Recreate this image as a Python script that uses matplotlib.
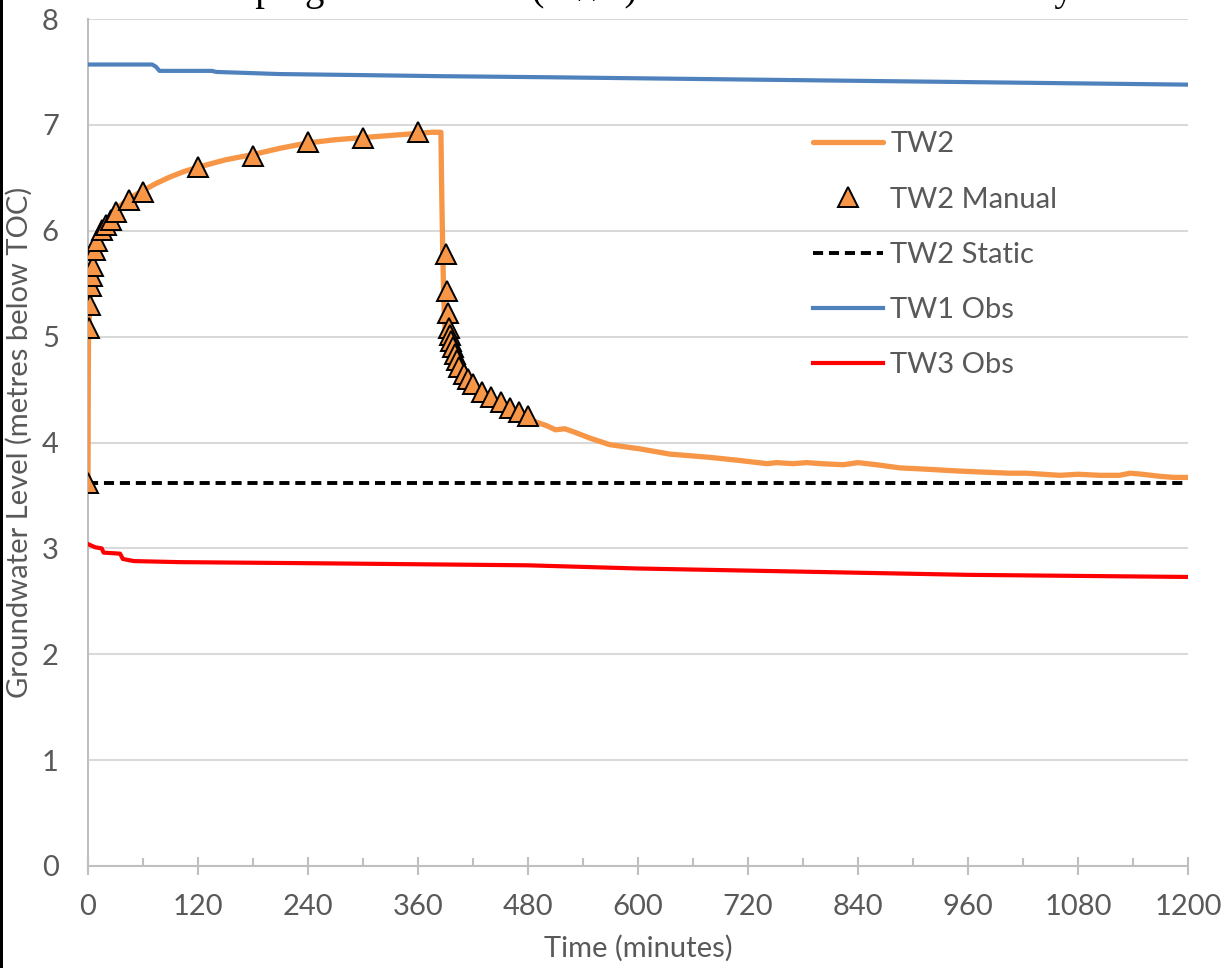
import matplotlib
matplotlib.use("Agg")
import matplotlib.pyplot as plt
from matplotlib.patches import Rectangle

# ---------------- data ----------------
tw2_time = [0, 0.3, 0.6, 1, 2, 3, 4, 5, 6, 8, 10, 15, 20, 25, 30, 40, 50, 60, 75, 90,
            105, 120, 150, 180, 210, 240, 270, 300, 330, 360, 375, 385,
            386, 387, 388, 389, 390, 392, 395, 400, 405, 410, 420, 430, 440, 450,
            460, 470, 480, 500, 510, 520, 530, 548, 569, 602, 635, 678, 711, 741,
            751, 769, 784, 800, 824, 840, 860, 886, 910, 951, 977, 1006, 1024,
            1042, 1060, 1080, 1104, 1125, 1137, 1150, 1170, 1185, 1200]
tw2_level = [3.62, 4.60, 5.00, 5.10, 5.30, 5.48, 5.58, 5.66, 5.74, 5.85, 5.92, 6.03,
             6.10, 6.15, 6.20, 6.27, 6.33, 6.38, 6.45, 6.51, 6.56, 6.60, 6.67, 6.72,
             6.78, 6.83, 6.86, 6.88, 6.90, 6.92, 6.93, 6.93,
             6.30, 5.80, 5.40, 5.15, 5.02, 4.92, 4.83, 4.73, 4.66, 4.60, 4.50, 4.43,
             4.38, 4.33, 4.29, 4.26, 4.22, 4.16, 4.12, 4.13, 4.10, 4.04, 3.98, 3.94,
             3.89, 3.86, 3.83, 3.80, 3.81, 3.80, 3.81, 3.80, 3.79, 3.81, 3.79, 3.76,
             3.75, 3.73, 3.72, 3.71, 3.71, 3.70, 3.69, 3.70, 3.69, 3.69, 3.71, 3.70,
             3.68, 3.67, 3.67]

manual_time = [0, 1, 2, 3, 4, 5, 8, 10, 15, 20, 25, 30, 45, 60, 120, 180, 240, 300, 360,
               391, 392, 393, 394, 395, 396, 398, 400, 402, 405, 410, 415, 420, 430,
               440, 450, 460, 470, 480]
manual_level = [3.62, 5.08, 5.30, 5.48, 5.57, 5.67, 5.82, 5.90, 6.01, 6.05, 6.10, 6.18,
                6.29, 6.37, 6.60, 6.71, 6.84, 6.88, 6.93,
                5.78, 5.43, 5.22, 5.08, 5.02, 4.96, 4.90, 4.84, 4.78, 4.71, 4.65,
                4.60, 4.55, 4.48, 4.43, 4.38, 4.33, 4.29, 4.25]

static_time = [0, 1200]
static_level = [3.62, 3.62]

tw1_time = [0, 40, 70, 74, 78, 100, 135, 140, 209, 300, 384, 500, 600, 700, 800, 900,
            1000, 1100, 1200]
tw1_level = [7.57, 7.57, 7.57, 7.55, 7.51, 7.51, 7.51, 7.50, 7.48, 7.47, 7.46, 7.45,
             7.44, 7.43, 7.42, 7.41, 7.40, 7.39, 7.38]

tw3_time = [0, 8, 15, 17, 35, 38, 50, 100, 240, 360, 480, 600, 720, 840, 960, 1080, 1200]
tw3_level = [3.04, 3.01, 3.00, 2.96, 2.95, 2.90, 2.88, 2.87, 2.86, 2.85, 2.84, 2.81,
             2.79, 2.77, 2.75, 2.74, 2.73]

x_ticks = list(range(0, 1201, 120))
y_ticks = list(range(0, 9))

title_text = "Pumping Test Results (TW2) \u2013 Drawdown and Recovery"
x_label = "Time (minutes)"
y_label = "Groundwater Level (metres below TOC)"

# ---------------- style ----------------
ORANGE = "#F79646"
BLUE = "#4F81BD"
RED = "#FF0000"
GRAY_TXT = "#595959"
GRID = "#D9D9D9"
AXIS = "#BFBFBF"
FONT = ["Lato", "DejaVu Sans"]
FS = 21

plt.rcParams["font.family"] = FONT

fig = plt.figure(figsize=(12.3, 9.68), dpi=100)
ax = fig.add_axes([88 / 1230, (968 - 866) / 968, 1100 / 1230, 847 / 968])

ax.plot(tw2_time, tw2_level, color=ORANGE, lw=3.8, solid_joinstyle="round",
        solid_capstyle="round", zorder=3, label="TW2")
ax.plot(manual_time, manual_level, ls="none", marker="^", ms=14, mfc=ORANGE,
        mec="black", mew=1.4, zorder=5, label="TW2 Manual")
ax.plot(static_time, static_level, color="black", lw=2.8, dashes=(2.6, 1.5),
        zorder=4, label="TW2 Static")
ax.plot(tw1_time, tw1_level, color=BLUE, lw=3.0, zorder=3, label="TW1 Obs")
ax.plot(tw3_time, tw3_level, color=RED, lw=3.0, zorder=3, label="TW3 Obs")

ax.set_xlim(0, 1200)
ax.set_ylim(0, 8)
ax.set_xticks(x_ticks)
ax.set_xticks(list(range(60, 1200, 120)), minor=True)
ax.set_yticks(y_ticks)
ax.grid(axis="y", color=GRID, lw=1.5, zorder=0)
ax.set_axisbelow(True)

for s in ["top", "right"]:
    ax.spines[s].set_visible(False)
ax.spines["left"].set_color(AXIS)
ax.spines["bottom"].set_color(AXIS)
ax.spines["left"].set_linewidth(1.5)
ax.spines["bottom"].set_linewidth(1.5)

ax.tick_params(axis="y", length=0, pad=21, labelsize=FS, labelcolor=GRAY_TXT)
ax.tick_params(axis="x", which="major", direction="inout", length=13, width=1.5,
               color=AXIS, pad=14, labelsize=FS, labelcolor=GRAY_TXT)
ax.tick_params(axis="x", which="minor", direction="in", length=6, width=1.5,
               color=AXIS)

ax.set_xlabel(x_label, fontsize=FS, color=GRAY_TXT, labelpad=10)
ax.set_ylabel(y_label, fontsize=FS, color=GRAY_TXT)
ax.yaxis.set_label_coords(-0.050, 0.5)

leg = ax.legend(loc="upper left", bbox_to_anchor=(0.6486, 0.881), frameon=False,
                fontsize=FS, labelcolor=GRAY_TXT, handlelength=2.4,
                handletextpad=0.24, labelspacing=1.0, borderaxespad=0)

# title (clipped at the top of the image, as in the reference)
fig.text(0.1496, 1.0, title_text, family=["Liberation Serif", "DejaVu Serif"],
         fontsize=28, color="black", ha="left", va="baseline")

# black strip on left edge
fig.patches.append(Rectangle((0, 0), 3 / 1230, 1, transform=fig.transFigure,
                             facecolor="black", edgecolor="none", zorder=10))

fig.savefig("out.png", dpi=100)
